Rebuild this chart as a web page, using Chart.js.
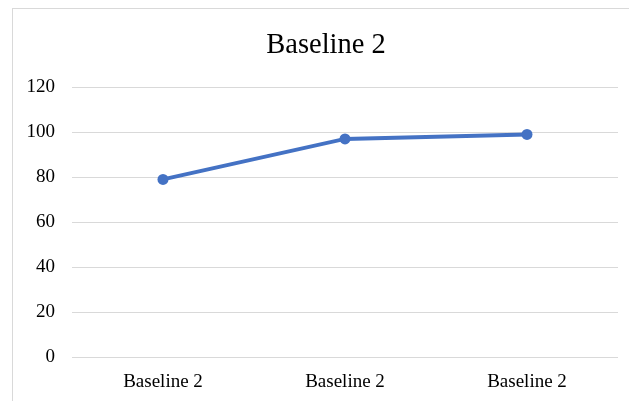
<!DOCTYPE html>
<html>
<head>
<meta charset="utf-8">
<script src="https://cdn.jsdelivr.net/npm/chart.js@4/dist/chart.umd.min.js"></script>
<style>
  html, body { margin: 0; padding: 0; background: #fff; overflow: hidden; }
  #frame { position: absolute; left: 12px; top: 8px; width: 700px; height: 500px; border: 1px solid #d9d9d9; box-sizing: border-box; }
  #wrap { position: absolute; left: 0; top: 0; width: 629px; height: 401px; }
</style>
</head>
<body>
<div id="frame"></div>
<div id="wrap"><canvas id="c" width="629" height="401"></canvas></div>
<script>
// values
var labels = ['Baseline 2', 'Baseline 2', 'Baseline 2'];
var values = [79, 97, 99];
var yTicks = [0, 20, 40, 60, 80, 100, 120];
var title = 'Baseline 2';

var blue = '#4472C4';
var grey = '#d9d9d9';
var serif = "'Liberation Serif', 'Times New Roman', serif";

// title is centred on the whole frame, not on the plot
var shiftTitle = {
    id: 'shiftTitle',
    afterLayout: function(chart) {
        if (chart.titleBlock) chart.titleBlock.left = 34;
    }
};

new Chart('c', {
    type: 'line',
    data: {
        labels: labels,
        datasets: [{
            data: values,
            borderColor: blue,
            backgroundColor: blue,
            borderWidth: 4,
            pointRadius: 5.5,
            pointBorderWidth: 0,
            tension: 0
        }]
    },
    options: {
        responsive: false,
        animation: false,
        layout: { padding: { top: 0, right: 11, bottom: 0, left: 0 } },
        plugins: {
            legend: { display: false },
            tooltip: { enabled: false },
            title: {
                display: true,
                text: title,
                color: '#000',
                font: { family: serif, size: 28.5, weight: 'normal' },
                padding: { top: 28, bottom: 25 }
            }
        },
        scales: {
            x: {
                offset: true,
                grid: { display: false },
                border: { display: false },
                ticks: { color: '#000', font: { family: serif, size: 19 }, padding: 6, maxRotation: 0 },
                afterFit: function(s) { s.height = 44; }
            },
            y: {
                min: yTicks[0],
                max: yTicks[yTicks.length - 1],
                afterBuildTicks: function(s) { s.ticks = yTicks.map(v => ({ value: v })); },
                grid: { color: grey, lineWidth: 1, drawTicks: false },
                border: { display: false },
                ticks: { color: '#000', font: { family: serif, size: 19 }, padding: 17 },
                afterFit: function(s) { s.width = 72; }
            }
        }
    },
    plugins: [shiftTitle]
});
</script>
</body>
</html>
